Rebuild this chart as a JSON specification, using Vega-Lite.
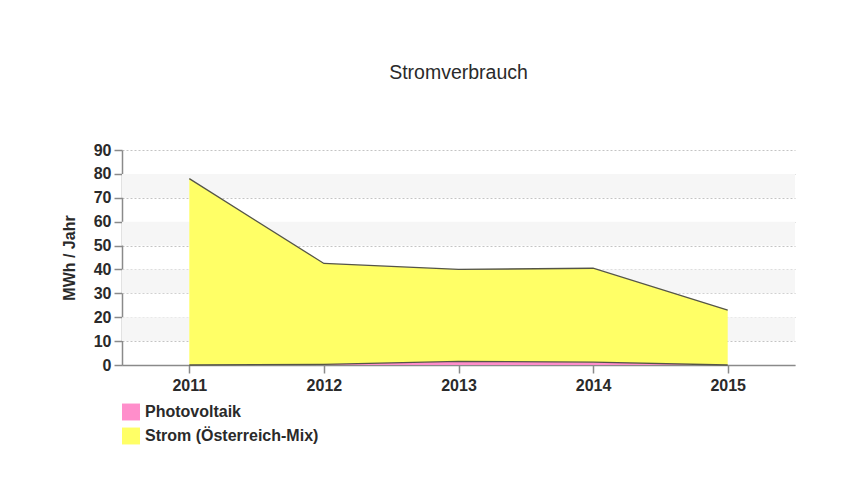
{
  "$schema": "https://vega.github.io/schema/vega-lite/v6.json",
  "width": 673,
  "height": 215,
  "autosize": {"type": "none"},
  "padding": {"left": 122, "top": 150, "right": 68, "bottom": 116},
  "background": "white",
  "config": {
    "view": {"stroke": null},
    "font": "Liberation Sans",
    "axis": {"labelFont": "Liberation Sans", "titleFont": "Liberation Sans", "labelColor": "#2a2a2a", "titleColor": "#2a2a2a"},
    "axisY": {
      "titleFontSize": 16,
      "titleFontWeight": "bold",
      "titlePadding": 16,
      "tickCount": 10,
      "labelOverlap": false,
      "labelFontSize": 16,
      "labelFontWeight": "bold",
      "labelPadding": 3,
      "domainColor": "#8a8a8a",
      "domainWidth": 1.5,
      "tickColor": "#8a8a8a",
      "tickWidth": 1.5,
      "tickSize": 8,
      "grid": true,
      "gridColor": "#c4c4c4",
      "gridDash": [2, 2],
      "gridWidth": 1
    }
  },
  "title": {
    "text": "Stromverbrauch",
    "anchor": "middle",
    "fontSize": 19.5,
    "fontWeight": "normal",
    "color": "#2a2a2a",
    "offset": 59,
    "font": "Liberation Sans"
  },
  "datasets": {
    "bands": [
      {"lo": 10, "hi": 20},
      {"lo": 30, "hi": 40},
      {"lo": 50, "hi": 60},
      {"lo": 70, "hi": 80}
    ],
    "energy": [
      {"Jahr": "2011", "Quelle": "Photovoltaik", "ord": 1, "MWh": 0},
      {"Jahr": "2012", "Quelle": "Photovoltaik", "ord": 1, "MWh": 0.3},
      {"Jahr": "2013", "Quelle": "Photovoltaik", "ord": 1, "MWh": 1.5},
      {"Jahr": "2014", "Quelle": "Photovoltaik", "ord": 1, "MWh": 1.2},
      {"Jahr": "2015", "Quelle": "Photovoltaik", "ord": 1, "MWh": 0},
      {"Jahr": "2011", "Quelle": "Strom (Österreich-Mix)", "ord": 2, "MWh": 78},
      {"Jahr": "2012", "Quelle": "Strom (Österreich-Mix)", "ord": 2, "MWh": 42.2},
      {"Jahr": "2013", "Quelle": "Strom (Österreich-Mix)", "ord": 2, "MWh": 38.5},
      {"Jahr": "2014", "Quelle": "Strom (Österreich-Mix)", "ord": 2, "MWh": 39.3},
      {"Jahr": "2015", "Quelle": "Strom (Österreich-Mix)", "ord": 2, "MWh": 23}
    ]
  },
  "layer": [
    {
      "data": {"name": "bands"},
      "mark": {"type": "rect", "color": "#f6f6f6"},
      "encoding": {
        "y": {
          "field": "lo",
          "type": "quantitative",
          "scale": {"domain": [0, 90]},
          "title": "MWh / Jahr",
          "axis": {"values": [0, 10, 20, 30, 40, 50, 60, 70, 80, 90]}
        },
        "y2": {"field": "hi"}
      }
    },
    {
      "data": {"name": "energy"},
      "mark": {"type": "area", "opacity": 1},
      "encoding": {
        "x": {
          "field": "Jahr",
          "type": "ordinal",
          "scale": {"type": "point", "padding": 0.5},
          "axis": {
            "title": null,
            "labelAngle": 0,
            "labelFontSize": 16,
            "labelFontWeight": "bold",
            "labelPadding": 4,
            "domainColor": "#8a8a8a",
            "domainWidth": 1.5,
            "tickColor": "#8a8a8a",
            "tickWidth": 1.5,
            "tickSize": 8,
            "grid": false
          }
        },
        "y": {
          "field": "MWh",
          "type": "quantitative",
          "stack": "zero",
          "title": "MWh / Jahr",
          "axis": {"values": [0, 10, 20, 30, 40, 50, 60, 70, 80, 90]}
        },
        "color": {
          "field": "Quelle",
          "type": "nominal",
          "scale": {"domain": ["Photovoltaik", "Strom (Österreich-Mix)"], "range": ["#ff8ecb", "#ffff66"]},
          "legend": {
            "title": null,
            "orient": "none",
            "legendX": 0,
            "legendY": 253,
            "symbolType": "M-1,-0.94H1V0.94H-1Z",
            "symbolSize": 324,
            "symbolStrokeWidth": 0,
            "symbolOpacity": 1,
            "labelFontSize": 16,
            "labelFontWeight": "bold",
            "labelFont": "Liberation Sans",
            "labelColor": "#2a2a2a",
            "labelOffset": 5,
            "labelLimit": 400,
            "rowPadding": 6
          }
        },
        "order": {"field": "ord", "type": "quantitative", "sort": "ascending"}
      }
    },
    {
      "data": {"name": "energy"},
      "mark": {"type": "line", "color": "#555548", "strokeWidth": 1.3},
      "encoding": {
        "x": {"field": "Jahr", "type": "ordinal"},
        "y": {
          "field": "MWh",
          "type": "quantitative",
          "stack": "zero",
          "title": "MWh / Jahr",
          "axis": {"values": [0, 10, 20, 30, 40, 50, 60, 70, 80, 90]}
        },
        "detail": {"field": "Quelle", "type": "nominal"},
        "order": {"field": "ord", "type": "quantitative", "sort": "ascending"}
      }
    }
  ]
}
